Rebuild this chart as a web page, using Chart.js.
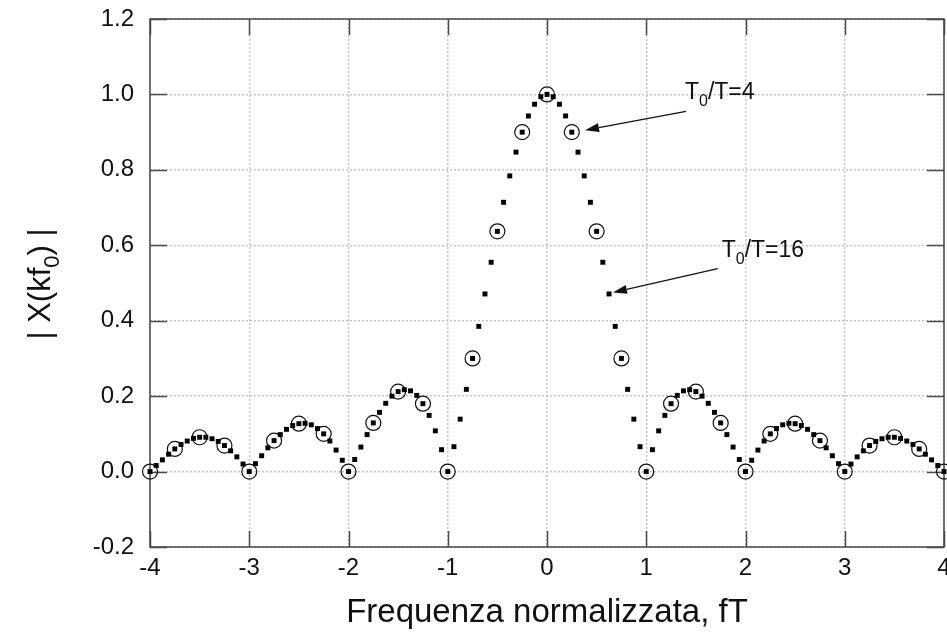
<!DOCTYPE html>
<html>
<head>
<meta charset="utf-8">
<script src="https://cdn.jsdelivr.net/npm/chart.js@4"></script>
<style>
  html, body { margin: 0; padding: 0; background: #fff; }
</style>
</head>
<body>
<canvas id="c" width="947" height="641"></canvas>
<script>
const FONT = '"Liberation Sans", Arial, sans-serif';

// T0/T = 16 : samples at fT = k/16
const freq16 = [
  -4, -3.9375, -3.875, -3.8125, -3.75, -3.6875, -3.625, -3.5625, -3.5, -3.4375, -3.375, -3.3125, -3.25, -3.1875, -3.125, -3.0625,
  -3, -2.9375, -2.875, -2.8125, -2.75, -2.6875, -2.625, -2.5625, -2.5, -2.4375, -2.375, -2.3125, -2.25, -2.1875, -2.125, -2.0625,
  -2, -1.9375, -1.875, -1.8125, -1.75, -1.6875, -1.625, -1.5625, -1.5, -1.4375, -1.375, -1.3125, -1.25, -1.1875, -1.125, -1.0625,
  -1, -0.9375, -0.875, -0.8125, -0.75, -0.6875, -0.625, -0.5625, -0.5, -0.4375, -0.375, -0.3125, -0.25, -0.1875, -0.125, -0.0625,
  0, 0.0625, 0.125, 0.1875, 0.25, 0.3125, 0.375, 0.4375, 0.5, 0.5625, 0.625, 0.6875, 0.75, 0.8125, 0.875, 0.9375,
  1, 1.0625, 1.125, 1.1875, 1.25, 1.3125, 1.375, 1.4375, 1.5, 1.5625, 1.625, 1.6875, 1.75, 1.8125, 1.875, 1.9375,
  2, 2.0625, 2.125, 2.1875, 2.25, 2.3125, 2.375, 2.4375, 2.5, 2.5625, 2.625, 2.6875, 2.75, 2.8125, 2.875, 2.9375,
  3, 3.0625, 3.125, 3.1875, 3.25, 3.3125, 3.375, 3.4375, 3.5, 3.5625, 3.625, 3.6875, 3.75, 3.8125, 3.875, 3.9375,
  4
];
const mag16 = [
  0.000, 0.016, 0.031, 0.046, 0.060, 0.072, 0.081, 0.088, 0.091, 0.091, 0.087, 0.080, 0.069, 0.055, 0.039, 0.020,
  0.000, 0.021, 0.042, 0.063, 0.082, 0.098, 0.112, 0.122, 0.127, 0.128, 0.124, 0.114, 0.100, 0.081, 0.057, 0.030,
  0.000, 0.032, 0.065, 0.098, 0.129, 0.157, 0.181, 0.200, 0.212, 0.217, 0.214, 0.202, 0.180, 0.149, 0.108, 0.058,
  0.000, 0.066, 0.139, 0.218, 0.300, 0.385, 0.471, 0.555, 0.637, 0.714, 0.784, 0.847, 0.900, 0.943, 0.974, 0.994,
  1.000, 0.994, 0.974, 0.943, 0.900, 0.847, 0.784, 0.714, 0.637, 0.555, 0.471, 0.385, 0.300, 0.218, 0.139, 0.066,
  0.000, 0.058, 0.108, 0.149, 0.180, 0.202, 0.214, 0.217, 0.212, 0.200, 0.181, 0.157, 0.129, 0.098, 0.065, 0.032,
  0.000, 0.030, 0.057, 0.081, 0.100, 0.114, 0.124, 0.128, 0.127, 0.122, 0.112, 0.098, 0.082, 0.063, 0.042, 0.021,
  0.000, 0.020, 0.039, 0.055, 0.069, 0.080, 0.087, 0.091, 0.091, 0.088, 0.081, 0.072, 0.060, 0.046, 0.031, 0.016,
  0.000
];

// T0/T = 4 : samples at fT = k/4
const freq4 = [
  -4, -3.75, -3.5, -3.25, -3, -2.75, -2.5, -2.25, -2, -1.75, -1.5, -1.25, -1, -0.75, -0.5, -0.25,
  0, 0.25, 0.5, 0.75, 1, 1.25, 1.5, 1.75, 2, 2.25, 2.5, 2.75, 3, 3.25, 3.5, 3.75, 4
];
const mag4 = [
  0.000, 0.060, 0.091, 0.069, 0.000, 0.082, 0.127, 0.100, 0.000, 0.129, 0.212, 0.180, 0.000, 0.300, 0.637, 0.900,
  1.000, 0.900, 0.637, 0.300, 0.000, 0.180, 0.212, 0.129, 0.000, 0.100, 0.127, 0.082, 0.000, 0.069, 0.091, 0.060, 0.000
];

// annotation labels, in data units: [label parts, text x, text y, arrow from x, y, arrow to x, y]
const notes = [
  [[['T', 0], ['0', 1], ['/T=4', 0]], 1.39, 0.987, 1.40, 0.955, 0.383, 0.905],
  [[['T', 0], ['0', 1], ['/T=16', 0]], 1.76, 0.570, 1.72, 0.538, 0.665, 0.475]
];

const xTitle = [['Frequenza normalizzata, fT', 0]];
const yTitle = [['| X(kf', 0], ['0', 1], [') |', 0]];

function richText(ctx, parts, x, y, size, align) {
  const sub = Math.round(size * 0.7);
  const widths = parts.map(([t, s]) => {
    ctx.font = (s ? sub : size) + 'px ' + FONT;
    return ctx.measureText(t).width;
  });
  const total = widths.reduce((a, b) => a + b, 0);
  let cx = align === 'center' ? x - total / 2 : x;
  ctx.textAlign = 'left';
  ctx.textBaseline = 'alphabetic';
  parts.forEach(([t, s], i) => {
    ctx.font = (s ? sub : size) + 'px ' + FONT;
    ctx.fillText(t, cx, s ? y + size * 0.3 : y);
    cx += widths[i];
  });
}

const frame = {
  id: 'frame',
  beforeDatasetsDraw(chart) {
    const { ctx, chartArea: a, scales: { x, y } } = chart;
    ctx.save();
    ctx.strokeStyle = '#4a4a4a';
    ctx.lineWidth = 1.5;
    ctx.beginPath();
    x.ticks.forEach(t => {
      const px = Math.round(x.getPixelForValue(t.value)) + 0.5;
      ctx.moveTo(px, a.bottom); ctx.lineTo(px, a.bottom - 16);
      ctx.moveTo(px, a.top); ctx.lineTo(px, a.top + 16);
    });
    y.ticks.forEach(t => {
      const py = Math.round(y.getPixelForValue(t.value)) + 0.5;
      ctx.moveTo(a.left, py); ctx.lineTo(a.left + 17, py);
      ctx.moveTo(a.right, py); ctx.lineTo(a.right - 17, py);
    });
    ctx.stroke();
    ctx.strokeRect(a.left, a.top, a.right - a.left, a.bottom - a.top);

    // x tick labels
    ctx.fillStyle = '#111';
    ctx.font = '24px ' + FONT;
    ctx.textAlign = 'center';
    ctx.textBaseline = 'middle';
    x.ticks.forEach(t => {
      ctx.fillText(String(t.value), x.getPixelForValue(t.value), a.bottom + 21);
    });
    ctx.restore();
  },
  afterDraw(chart) {
    const { ctx, chartArea: a, scales: { x, y } } = chart;
    ctx.save();
    ctx.fillStyle = '#111';
    ctx.strokeStyle = '#111';
    richText(ctx, xTitle, (a.left + a.right) / 2, 622, 33, 'center');
    ctx.save();
    ctx.translate(50, 284);
    ctx.rotate(-Math.PI / 2);
    richText(ctx, yTitle, 0, 0, 31, 'center');
    ctx.restore();

    notes.forEach(([parts, tx, ty, x0, y0, x1, y1]) => {
      richText(ctx, parts, x.getPixelForValue(tx), y.getPixelForValue(ty), 23, 'left');
      const p0 = [x.getPixelForValue(x0), y.getPixelForValue(y0)];
      const p1 = [x.getPixelForValue(x1), y.getPixelForValue(y1)];
      const ang = Math.atan2(p1[1] - p0[1], p1[0] - p0[0]);
      const len = 14, half = 4.5;
      const bx = p1[0] - Math.cos(ang) * len, by = p1[1] - Math.sin(ang) * len;
      ctx.lineWidth = 1.3;
      ctx.beginPath();
      ctx.moveTo(p0[0], p0[1]);
      ctx.lineTo(bx, by);
      ctx.stroke();
      ctx.beginPath();
      ctx.moveTo(p1[0], p1[1]);
      ctx.lineTo(bx + Math.sin(ang) * half, by - Math.cos(ang) * half);
      ctx.lineTo(bx - Math.sin(ang) * half, by + Math.cos(ang) * half);
      ctx.closePath();
      ctx.fill();
    });
    ctx.restore();
  }
};

new Chart(document.getElementById('c'), {
  type: 'scatter',
  data: {
    datasets: [
      {
        label: 'T0/T=16',
        data: freq16.map((f, i) => ({ x: f, y: mag16[i] })),
        pointStyle: 'rect',
        pointRadius: 3.5,
        backgroundColor: '#000',
        borderColor: '#000',
        borderWidth: 0,
        clip: false
      },
      {
        label: 'T0/T=4',
        data: freq4.map((f, i) => ({ x: f, y: mag4[i] })),
        pointStyle: 'circle',
        pointRadius: 7.5,
        backgroundColor: 'rgba(0,0,0,0)',
        borderColor: '#111',
        borderWidth: 1.2,
        clip: false
      }
    ]
  },
  options: {
    responsive: false,
    animation: false,
    events: [],
    layout: { autoPadding: false, padding: { top: 19, right: 3, left: 0, bottom: 0 } },
    plugins: {
      legend: { display: false },
      tooltip: { enabled: false }
    },
    scales: {
      x: {
        type: 'linear',
        min: -4,
        max: 4,
        ticks: { stepSize: 1, display: false },
        grid: { color: '#c6c6c6', lineWidth: 1.5, drawTicks: false },
        border: { display: false, dash: [2, 2] },
        afterFit(s) { s.height = 94; s.paddingLeft = 0; s.paddingRight = 0; }
      },
      y: {
        min: -0.2,
        max: 1.2,
        ticks: {
          stepSize: 0.2,
          padding: 16,
          color: '#111',
          font: { family: FONT, size: 24 },
          callback: v => (Math.abs(v) < 1e-9 ? 0 : v).toFixed(1)
        },
        grid: { color: '#c6c6c6', lineWidth: 1.5, drawTicks: false },
        border: { display: false, dash: [2, 2] },
        afterFit(s) { s.width = 150; s.paddingTop = 0; s.paddingBottom = 0; }
      }
    }
  },
  plugins: [frame]
});
</script>
</body>
</html>
